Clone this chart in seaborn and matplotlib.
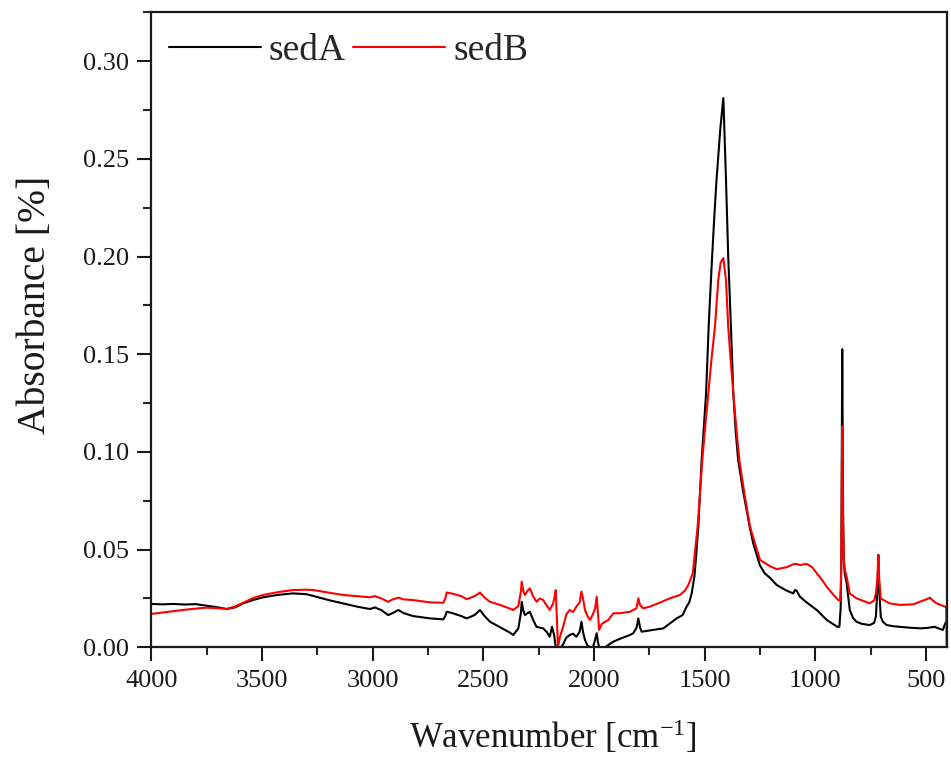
import numpy as np
import pandas as pd
import matplotlib
matplotlib.use("Agg")
import matplotlib.pyplot as plt
from matplotlib.ticker import AutoMinorLocator
from matplotlib.lines import Line2D
import seaborn as sns

# ---- data ----
wn_a = [4000, 3950, 3900, 3850, 3800, 3750, 3700, 3660, 3620, 3585, 3540, 3495, 3430, 3360, 3300,
        3268, 3200, 3134, 3070, 3012, 2990, 2960, 2930, 2910, 2884, 2860, 2818, 2741, 2681, 2672,
        2666, 2640, 2600, 2575, 2540, 2515, 2495, 2470, 2420, 2380, 2365, 2342, 2330, 2327, 2320,
        2312, 2300, 2290, 2275, 2260, 2230, 2215, 2200, 2190, 2180, 2173, 2163, 2150, 2140, 2125,
        2110, 2095, 2080, 2065, 2057, 2050, 2041, 2030, 2018, 2005, 1995, 1988, 1983, 1977, 1960,
        1950, 1936, 1913, 1880, 1838, 1823, 1808, 1800, 1792, 1785, 1740, 1687, 1660, 1627, 1600,
        1582, 1570, 1559, 1547, 1540, 1529, 1522, 1514, 1504, 1494, 1482, 1469, 1458, 1447, 1430,
        1416, 1404, 1394, 1382, 1371, 1360, 1349, 1330, 1311, 1296,
        1281, 1251, 1230, 1205, 1175, 1130, 1100, 1093, 1085, 1070, 1040, 994, 949, 915, 901, 892,
        886, 883, 881, 879, 877, 875, 872, 868, 859, 845, 830, 815, 790, 755, 735,
        727, 720, 716, 712, 705, 695, 678, 650, 618, 570, 522, 490, 462, 440, 424,
        418, 410, 407]
abs_a = [0.0222, 0.0220, 0.0222, 0.0219, 0.0221, 0.0213, 0.0205, 0.0196, 0.0205, 0.0225, 0.0242, 0.0256, 0.0268, 0.0276, 0.0272,
         0.0263, 0.0242, 0.0225, 0.0208, 0.0196, 0.0204, 0.0190, 0.0165, 0.0175, 0.0191, 0.0175, 0.0160, 0.0148, 0.0143, 0.0160,
         0.0182, 0.0175, 0.0160, 0.0148, 0.0165, 0.0191, 0.0160, 0.0131, 0.0100, 0.0075, 0.0063, 0.0097, 0.0180, 0.0233, 0.0190,
         0.0165, 0.0175, 0.0182, 0.0140, 0.0105, 0.0097, 0.0080, 0.0054, 0.0105, 0.0060, 0.0000, 0.0000, 0.0000, 0.0015, 0.0050,
         0.0063, 0.0070, 0.0054, 0.0080, 0.0131, 0.0080, 0.0037, 0.0010, 0.0000, 0.0000, 0.0040, 0.0072, 0.0030, 0.0000, 0.0000,
         0.0000, 0.0012, 0.0029, 0.0045, 0.0063, 0.0072, 0.0100, 0.0148, 0.0100, 0.0080, 0.0088, 0.0097, 0.0120, 0.0148, 0.0165,
         0.0208, 0.0230, 0.0276, 0.0361, 0.0450, 0.0618, 0.0780, 0.0959, 0.1130, 0.1300, 0.1650, 0.1950, 0.2180, 0.2390, 0.2650,
         0.2811, 0.2390, 0.2000, 0.1650, 0.1300, 0.1100, 0.0959, 0.0820, 0.0703, 0.0610,
         0.0532, 0.0420, 0.0380, 0.0355, 0.0319, 0.0290, 0.0276, 0.0293, 0.0290, 0.0259, 0.0230, 0.0191, 0.0140, 0.0115, 0.0105, 0.0105,
         0.0200, 0.0450, 0.0950, 0.1526, 0.1100, 0.0700, 0.0450, 0.0380, 0.0328, 0.0191, 0.0150, 0.0131, 0.0120, 0.0114, 0.0125,
         0.0157, 0.0300, 0.0473, 0.0300, 0.0157, 0.0130, 0.0114, 0.0108, 0.0105, 0.0100, 0.0097, 0.0100, 0.0105, 0.0095, 0.0089,
         0.0110, 0.0131, 0.0135]

wn_b = [4000, 3950, 3900, 3850, 3800, 3750, 3700, 3660, 3620, 3585, 3540, 3495, 3430, 3360, 3300,
        3268, 3200, 3134, 3070, 3012, 2990, 2960, 2930, 2910, 2884, 2860, 2818, 2741, 2681, 2672,
        2666, 2640, 2600, 2575, 2540, 2515, 2495, 2470, 2420, 2380, 2365, 2342, 2330, 2327, 2320,
        2312, 2300, 2290, 2275, 2260, 2245, 2230, 2215, 2200, 2185, 2178, 2173, 2168, 2163, 2155,
        2140, 2125, 2110, 2095, 2080, 2065, 2057, 2050, 2041, 2030, 2018, 2005, 1995, 1988, 1983,
        1977, 1965, 1950, 1936, 1913, 1880, 1838, 1823, 1808, 1800, 1792, 1778, 1748, 1700, 1657,
        1612, 1590, 1574, 1554, 1548, 1532, 1522, 1511, 1498, 1484, 1470, 1454, 1439, 1428, 1416,
        1404, 1394, 1383, 1371, 1358, 1344,
        1320, 1296, 1270, 1250, 1205, 1175, 1130, 1100, 1085, 1070, 1040, 1015, 994, 970, 949,
        920, 897, 889, 886, 883, 881, 879, 877, 875, 872, 868, 859, 845, 815, 790,
        755, 735, 727, 720, 716, 712, 705, 690, 665, 618, 558, 529, 500, 483, 470,
        453, 430, 414, 409, 407]
abs_b = [0.0171, 0.0178, 0.0185, 0.0192, 0.0198, 0.0203, 0.0200, 0.0196, 0.0210, 0.0228, 0.0252, 0.0268, 0.0282, 0.0293, 0.0295,
         0.0293, 0.0280, 0.0268, 0.0262, 0.0256, 0.0262, 0.0250, 0.0233, 0.0245, 0.0254, 0.0245, 0.0242, 0.0230, 0.0228, 0.0250,
         0.0280, 0.0275, 0.0262, 0.0246, 0.0262, 0.0280, 0.0255, 0.0233, 0.0215, 0.0198, 0.0191, 0.0211, 0.0290, 0.0336, 0.0290,
         0.0268, 0.0290, 0.0302, 0.0260, 0.0233, 0.0250, 0.0242, 0.0215, 0.0191, 0.0225, 0.0260, 0.0293, 0.0150, 0.0000, 0.0050,
         0.0105, 0.0170, 0.0191, 0.0180, 0.0208, 0.0230, 0.0285, 0.0250, 0.0191, 0.0160, 0.0140, 0.0170, 0.0200, 0.0259, 0.0180,
         0.0089, 0.0120, 0.0130, 0.0140, 0.0174, 0.0175, 0.0182, 0.0191, 0.0200, 0.0251, 0.0215, 0.0200, 0.0208, 0.0230, 0.0251,
         0.0268, 0.0290, 0.0319, 0.0380, 0.0447, 0.0620, 0.0780, 0.0960, 0.1130, 0.1300, 0.1470, 0.1640, 0.1880, 0.1970, 0.1992,
         0.1880, 0.1640, 0.1470, 0.1300, 0.1130, 0.0960,
         0.0780, 0.0620, 0.0520, 0.0447, 0.0415, 0.0400, 0.0410, 0.0425, 0.0427, 0.0421, 0.0427, 0.0410, 0.0379, 0.0345, 0.0310,
         0.0270, 0.0242, 0.0240, 0.0300, 0.0450, 0.0800, 0.1130, 0.0850, 0.0600, 0.0450, 0.0400, 0.0361, 0.0276, 0.0251, 0.0240,
         0.0225, 0.0240, 0.0276, 0.0350, 0.0470, 0.0350, 0.0251, 0.0240, 0.0225, 0.0217, 0.0220, 0.0233, 0.0245, 0.0254, 0.0240,
         0.0225, 0.0215, 0.0208, 0.0200, 0.0000]

series_names = ["sedA", "sedB"]
series_colors = ["#000000", "#ff0000"]
x_ticks = [4000, 3500, 3000, 2500, 2000, 1500, 1000, 500]
y_ticks = [0.00, 0.05, 0.10, 0.15, 0.20, 0.25, 0.30]

df = pd.concat([
    pd.DataFrame({"wn": wn_a, "abs": abs_a, "sample": series_names[0]}),
    pd.DataFrame({"wn": wn_b, "abs": abs_b, "sample": series_names[1]}),
], ignore_index=True)

sns.set_theme(style="ticks")
plt.rcParams["font.family"] = ["Liberation Serif", "DejaVu Serif"]
plt.rcParams["mathtext.fontset"] = "custom"
plt.rcParams["mathtext.rm"] = "Liberation Serif"
plt.rcParams["mathtext.it"] = "Liberation Serif:italic"

fig = plt.figure(figsize=(9.51, 7.62), dpi=100)
ax = fig.add_axes([0.1591, 0.1505, 0.8364, 0.8334])

sns.lineplot(data=df, x="wn", y="abs", hue="sample", palette=series_colors,
             estimator=None, sort=False, linewidth=1.5, ax=ax, legend=False)

ax.set_xlim(4000, 407)
ax.set_ylim(0, 0.325)
ax.set_xticks(x_ticks)
ax.set_yticks(y_ticks)
ax.set_xticklabels([str(t) for t in x_ticks])
ax.set_yticklabels([f"{t:.2f}" for t in y_ticks])
ax.xaxis.set_minor_locator(AutoMinorLocator(2))
ax.yaxis.set_minor_locator(AutoMinorLocator(2))
ax.tick_params(which="major", direction="out", length=10, width=1.5, labelsize=19,
               top=False, right=False, pad=6, colors="#1a1a1a")
ax.tick_params(which="minor", direction="out", length=5.5, width=1.5, top=False, right=False)
for s in ax.spines.values():
    s.set_linewidth(1.6)
    s.set_color("#1a1a1a")
    s.set_visible(True)

ax.set_xlabel("Wavenumber [cm$^{-1}$]", fontsize=25, color="#1a1a1a")
ax.set_ylabel("Absorbance [%]", fontsize=28.5, color="#1a1a1a")
ax.xaxis.set_label_coords(0.505, -0.111)
ax.yaxis.set_label_coords(-0.122, 0.539)

handles = [Line2D([], [], color=c, linewidth=1.5) for c in series_colors]
ax.legend(handles, series_names, loc="upper left", ncol=2, frameon=False, fontsize=27,
          handlelength=2.45, handletextpad=0.22, columnspacing=0.2,
          bbox_to_anchor=(-0.011, 1.008), borderaxespad=0.3)

fig.savefig("out.png", dpi=100)
